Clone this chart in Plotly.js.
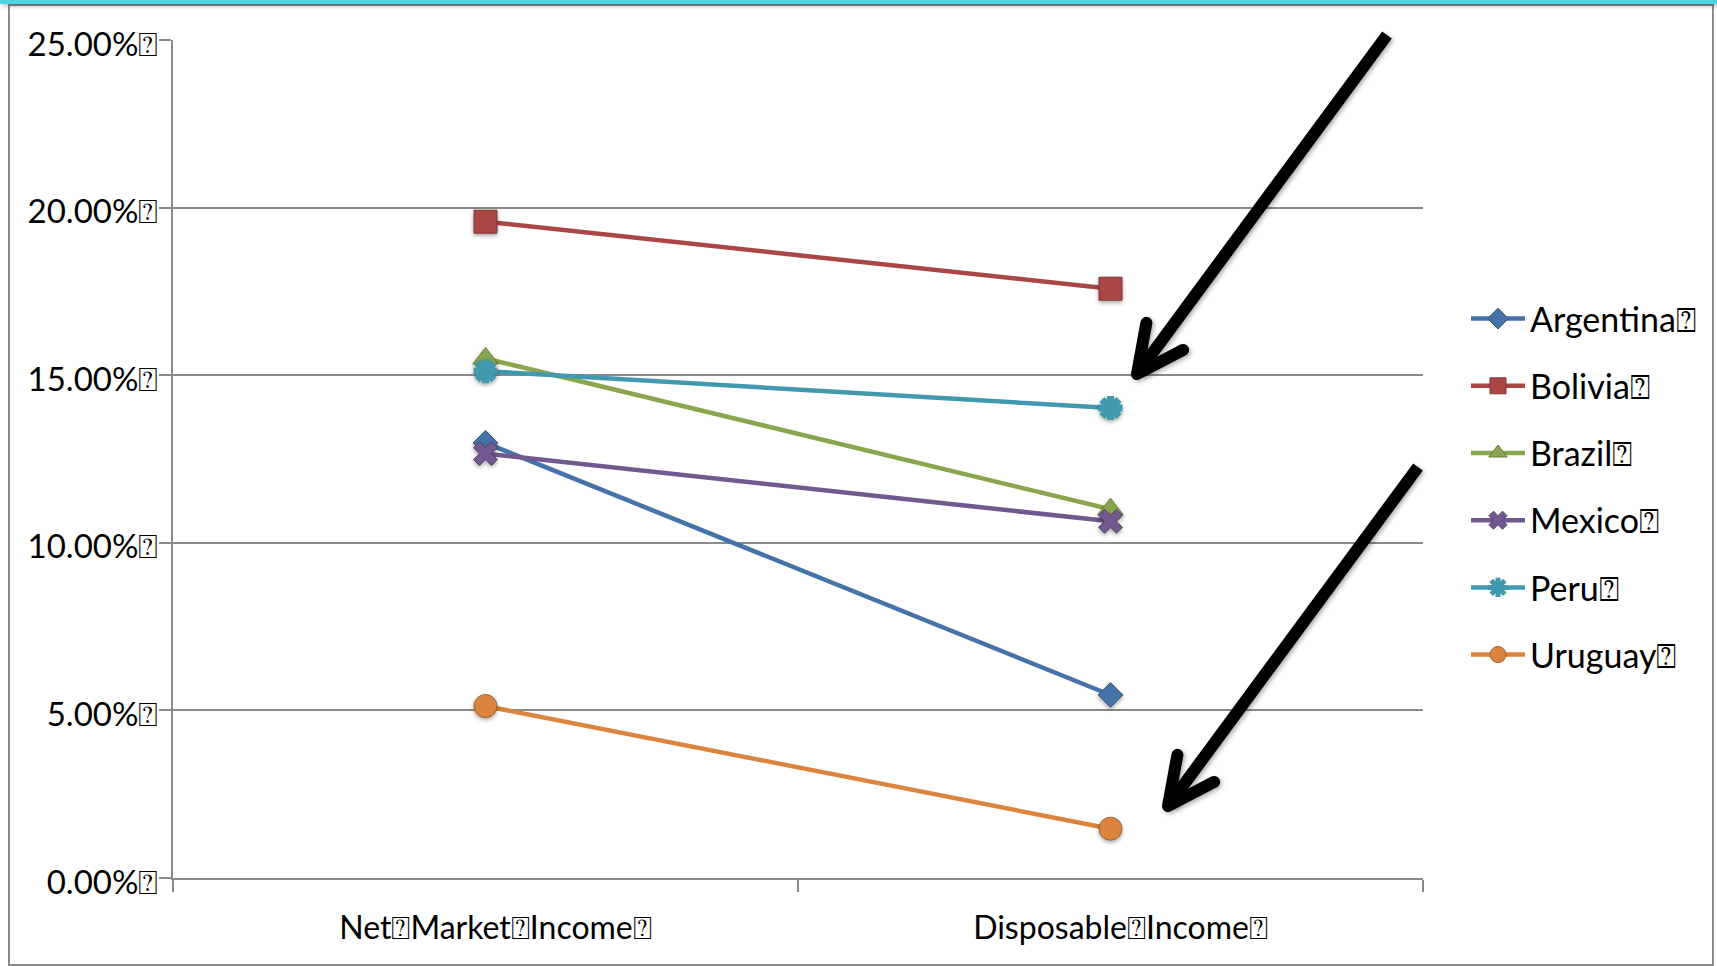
<!DOCTYPE html>
<html>
<head>
<meta charset="utf-8">
<script src="https://cdn.plot.ly/plotly-3.0.1.min.js"></script>
<style>
  html, body { margin: 0; padding: 0; background: #ffffff; }
  #chart { width: 1717px; height: 966px; }
  .scatterlayer .points path { filter: drop-shadow(0px 2px 2px rgba(0,0,0,0.35)); }
</style>
</head>
<body>
<div id="chart"></div>
<script>
// Gini-style share by income concept, six Latin American countries
const BOX = '\u2370';
const categories = ['Net' + BOX + 'Market' + BOX + 'Income' + BOX, 'Disposable' + BOX + 'Income' + BOX];

const countries = ['Argentina', 'Bolivia', 'Brazil', 'Mexico', 'Peru', 'Uruguay'];
const argentina = [0.1298, 0.0546];
const bolivia   = [0.1958, 0.1758];
const brazil    = [0.1550, 0.1100];
const mexico    = [0.1266, 0.1064];
const peru      = [0.1512, 0.1402];
const uruguay   = [0.0513, 0.0147];

const yTicks = [0, 0.05, 0.10, 0.15, 0.20, 0.25];
const yTickText = yTicks.map(v => (v * 100).toFixed(2) + '%' + BOX);

const colors  = ['#4572A7', '#AA4643', '#89A54E', '#71588F', '#4198AF', '#DB843D'];
const symbols = ['diamond', 'square', 'triangle-up', 'x', 'asterisk-open', 'circle'];
const sizes   = [19, 23, 22, 21, 20, 23];
const seriesValues = [argentina, bolivia, brazil, mexico, peru, uruguay];

const FONT = 'Lato, "Open Sans", "DejaVu Sans", sans-serif';

function darker(hex, f) {
  const n = parseInt(hex.slice(1), 16);
  const r = Math.round(((n >> 16) & 255) * f);
  const g = Math.round(((n >> 8) & 255) * f);
  const b = Math.round((n & 255) * f);
  return 'rgb(' + r + ',' + g + ',' + b + ')';
}

const traces = countries.map((name, i) => {
  const isStar = symbols[i] === 'asterisk-open';
  return {
    type: 'scatter',
    mode: 'lines+markers',
    name: name + BOX,
    legendgroup: 'g' + i,
    x: categories,
    y: seriesValues[i],
    line: { color: colors[i], width: 4.5 },
    marker: {
      symbol: symbols[i],
      size: sizes[i],
      color: colors[i],
      line: isStar ? { color: colors[i], width: 7 } : { color: darker(colors[i], 0.75), width: 1 }
    },
    hoverinfo: 'x+y+name'
  };
});

// pixel -> paper helpers for the frame and the pointer arrows
const PL = 173, PR = 1423, PT = 40, PB = 878;
const px = X => (X - PL) / (PR - PL);
const py = Y => (PB - Y) / (PB - PT);

function arrowShapes(x0, y0, x1, y1) {
  const dx = x0 - x1, dy = y0 - y1;
  const a = Math.atan2(dy, dx);
  const L = 52, spread = 26 * Math.PI / 180;
  const w1 = [x1 + L * Math.cos(a - spread), y1 + L * Math.sin(a - spread)];
  const w2 = [x1 + L * Math.cos(a + spread), y1 + L * Math.sin(a + spread)];
  return [
    { type: 'path', xref: 'paper', yref: 'paper', layer: 'above',
      path: 'M' + px(x0) + ',' + py(y0) + 'L' + px(x1 + 3 * Math.cos(a)) + ',' + py(y1 + 3 * Math.sin(a)),
      line: { color: '#000000', width: 12 } },
    { type: 'path', xref: 'paper', yref: 'paper', layer: 'above',
      path: 'M' + px(w1[0]) + ',' + py(w1[1]) + 'L' + px(x1) + ',' + py(y1) + 'L' + px(w2[0]) + ',' + py(w2[1]),
      line: { color: '#010101', width: 12 } }
  ];
}

const shapes = [
  // outer chart frame
  { type: 'rect', xref: 'paper', yref: 'paper', layer: 'below',
    x0: px(9), x1: px(1713), y0: py(965), y1: py(5),
    line: { color: '#8a8a8a', width: 2 }, fillcolor: 'rgba(0,0,0,0)' },
  // accent strip along the top edge
  { type: 'rect', xref: 'paper', yref: 'paper', layer: 'above',
    x0: px(0), x1: px(1717), y0: py(4), y1: py(0),
    line: { width: 0 }, fillcolor: '#4DD2E0' }
].concat(arrowShapes(1387, 35, 1137, 374), arrowShapes(1418, 467, 1168, 806));

const layout = {
  width: 1717,
  height: 966,
  margin: { l: PL, r: 1717 - PR, t: PT, b: 966 - PB, pad: 0 },
  paper_bgcolor: '#ffffff',
  plot_bgcolor: '#ffffff',
  font: { family: FONT, size: 33, color: '#000000' },
  showlegend: true,
  legend: {
    x: px(1466), xanchor: 'left',
    y: py(290), yanchor: 'top',
    bgcolor: 'rgba(0,0,0,0)',
    borderwidth: 0,
    font: { family: FONT, size: 34, color: '#000000' },
    tracegroupgap: 20,
    itemwidth: 54
  },
  xaxis: {
    type: 'category',
    range: [-0.5, 1.5],
    tickson: 'boundaries',
    ticks: 'outside',
    ticklen: 12,
    tickwidth: 2,
    tickcolor: '#8a8a8a',
    showline: true,
    linecolor: '#8a8a8a',
    linewidth: 2,
    showgrid: false,
    zeroline: false,
    ticklabelstandoff: 21,
    ticklabelshift: 10,
    tickfont: { family: FONT, size: 32, color: '#000000' },
    fixedrange: true
  },
  yaxis: {
    range: [0, 0.25],
    tickmode: 'array',
    tickvals: yTicks,
    ticktext: yTickText,
    ticks: 'outside',
    ticklen: 12,
    tickwidth: 2,
    tickcolor: '#8a8a8a',
    showline: true,
    linecolor: '#8a8a8a',
    linewidth: 2,
    showgrid: true,
    gridcolor: '#8a8a8a',
    gridwidth: 2,
    zeroline: false,
    ticklabelstandoff: -6,
    ticklabelshift: 4,
    tickfont: { family: FONT, size: 33, color: '#000000' },
    fixedrange: true
  },
  shapes: shapes
};

Plotly.newPlot('chart', traces, layout, { displayModeBar: false }).then(() => {
  document.querySelectorAll('.shapelayer path').forEach(p => {
    const s = (p.style.stroke || p.getAttribute('stroke') || '').replace(/\s/g, '');
    if (s === 'rgb(1,1,1)') {
      p.style.strokeLinecap = 'round';
      p.style.strokeLinejoin = 'round';
      p.style.filter = 'drop-shadow(2px 2px 2px rgba(0,0,0,0.3))';
    } else if (s === 'rgb(0,0,0)') {
      p.style.filter = 'drop-shadow(2px 2px 2px rgba(0,0,0,0.3))';
    }
  });
});
</script>
</body>
</html>
